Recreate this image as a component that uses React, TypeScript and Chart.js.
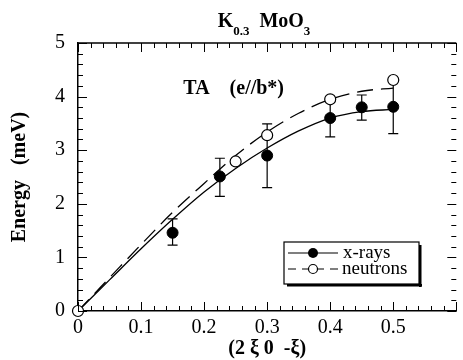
import React, { useEffect, useRef } from 'react';
import { Chart, registerables } from 'chart.js';

Chart.register(...registerables);

// ---- data ----
const xrayX = [0.15, 0.225, 0.3, 0.4, 0.45, 0.5];
const xrayY = [1.46, 2.51, 2.9, 3.6, 3.8, 3.81];
const xrayErrLow = [1.23, 2.14, 2.3, 3.25, 3.56, 3.31];
const xrayErrHigh = [1.72, 2.85, 3.49, 3.95, 4.03, 4.28];

const neutronX = [0, 0.25, 0.3, 0.4, 0.5];
const neutronY = [0, 2.79, 3.28, 3.95, 4.31];

const curveX = [0, 0.05, 0.1, 0.15, 0.2, 0.25, 0.3, 0.35, 0.4, 0.45, 0.5];
const xrayFit = [0, 0.58, 1.16, 1.71, 2.22, 2.66, 3.04, 3.36, 3.6, 3.72, 3.76];
const neutronFit = [0, 0.62, 1.24, 1.84, 2.38, 2.9, 3.34, 3.69, 3.95, 4.1, 4.16];

const xTickLabels = ['0', '0.1', '0.2', '0.3', '0.4', '0.5', ''];
const yTickLabels = ['0', '1', '2', '3', '4', '5'];

const seriesLabels = ['x-rays', 'neutrons'];
const titleParts = [
  { text: 'K', sub: false },
  { text: '0.3', sub: true },
  { text: '  MoO', sub: false },
  { text: '3', sub: true },
];
const annotationText = 'TA    (e//b*)';
const annotationX = 0.167;
const annotationY = 4.14;
const xAxisTitle = '(2 \u03BE 0  -\u03BE)';
const yAxisTitle = 'Energy   (meV)';

const SERIF = '"Liberation Serif", "Times New Roman", serif';

const errorBarPlugin = {
  id: 'errorBars',
  beforeDatasetsDraw(chart: any) {
    const { ctx, scales } = chart;
    const xs = scales.x;
    const ys = scales.y;
    ctx.save();
    ctx.strokeStyle = '#000';
    ctx.lineWidth = 1.2;
    xrayX.forEach((x, i) => {
      const px = xs.getPixelForValue(x);
      const lo = ys.getPixelForValue(xrayErrLow[i]);
      const hi = ys.getPixelForValue(xrayErrHigh[i]);
      ctx.beginPath();
      ctx.moveTo(px, lo);
      ctx.lineTo(px, hi);
      ctx.moveTo(px - 5, lo);
      ctx.lineTo(px + 5, lo);
      ctx.moveTo(px - 5, hi);
      ctx.lineTo(px + 5, hi);
      ctx.stroke();
    });
    ctx.restore();
  },
};

const decorPlugin = {
  id: 'decor',
  afterDraw(chart: any) {
    const { ctx, scales, chartArea } = chart;
    const xs = scales.x;
    const ys = scales.y;
    const { left, right, top, bottom } = chartArea;
    ctx.save();
    ctx.strokeStyle = '#000';

    // frame top (right edge falls at the picture border)
    ctx.lineWidth = 1.5;
    ctx.beginPath();
    ctx.moveTo(left, top);
    ctx.lineTo(right, top);
    ctx.stroke();

    // inward ticks on all sides
    ctx.lineWidth = 1;
    ctx.beginPath();
    for (let k = 0; k <= 30; k++) {
      const v = k * 0.02;
      const major = k % 5 === 0;
      const len = major ? 9 : 5;
      const px = Math.round(xs.getPixelForValue(v)) + 0.5;
      ctx.moveTo(px, bottom);
      ctx.lineTo(px, bottom - len);
      ctx.moveTo(px, top);
      ctx.lineTo(px, top + len);
    }
    for (let k = 0; k <= 25; k++) {
      const v = k * 0.2;
      const major = k % 5 === 0;
      const len = major ? 9 : 5;
      const py = Math.round(ys.getPixelForValue(v)) + 0.5;
      ctx.moveTo(left, py);
      ctx.lineTo(left + len, py);
      ctx.moveTo(right, py);
      ctx.lineTo(right - len, py);
    }
    ctx.stroke();

    // title with subscripts
    const mainFont = `bold 20px ${SERIF}`;
    const subFont = `bold 13px ${SERIF}`;
    let total = 0;
    titleParts.forEach((p) => {
      ctx.font = p.sub ? subFont : mainFont;
      total += ctx.measureText(p.text).width;
    });
    let tx = 264 - total / 2;
    ctx.fillStyle = '#000';
    ctx.textBaseline = 'alphabetic';
    ctx.textAlign = 'left';
    titleParts.forEach((p) => {
      ctx.font = p.sub ? subFont : mainFont;
      ctx.fillText(p.text, tx, p.sub ? 35 : 27);
      tx += ctx.measureText(p.text).width;
    });

    // annotation inside plot
    ctx.font = `bold 20px ${SERIF}`;
    ctx.textBaseline = 'middle';
    ctx.fillText(annotationText, xs.getPixelForValue(annotationX), ys.getPixelForValue(annotationY));

    // legend box
    const bx = 284, by = 242, bw = 135, bh = 42;
    ctx.fillStyle = '#fff';
    ctx.fillRect(bx, by, bw, bh);
    ctx.lineWidth = 1.2;
    ctx.strokeRect(bx, by, bw, bh);
    ctx.fillStyle = '#000';
    ctx.fillRect(bx + 3, by + bh, bw, 2.5);
    ctx.fillRect(bx + bw, by + 3, 2.5, bh);

    const rows = [253, 269];
    // x-rays row
    ctx.lineWidth = 1.2;
    ctx.setLineDash([]);
    ctx.beginPath();
    ctx.moveTo(288, rows[0]);
    ctx.lineTo(338, rows[0]);
    ctx.stroke();
    ctx.beginPath();
    ctx.arc(313, rows[0], 5, 0, Math.PI * 2);
    ctx.fill();
    // neutrons row
    ctx.setLineDash([8, 6]);
    ctx.beginPath();
    ctx.moveTo(288, rows[1]);
    ctx.lineTo(338, rows[1]);
    ctx.stroke();
    ctx.setLineDash([]);
    ctx.beginPath();
    ctx.arc(313, rows[1], 4.5, 0, Math.PI * 2);
    ctx.fillStyle = '#fff';
    ctx.fill();
    ctx.stroke();
    ctx.fillStyle = '#000';
    ctx.font = `19px ${SERIF}`;
    ctx.textBaseline = 'middle';
    ctx.fillText(seriesLabels[0], 343, rows[0]);
    ctx.fillText(seriesLabels[1], 342, rows[1]);

    ctx.restore();
  },
};

export default function App() {
  const ref = useRef<HTMLCanvasElement>(null);
  useEffect(() => {
    document.body.style.margin = '0';
    const canvas = ref.current;
    if (!canvas) return;
    const chart = new Chart(canvas, {
      type: 'line',
      data: {
        datasets: [
          {
            label: 'x-rays fit',
            data: curveX.map((x, i) => ({ x, y: xrayFit[i] })),
            borderColor: '#000',
            borderWidth: 1.3,
            pointRadius: 0,
            cubicInterpolationMode: 'monotone',
            fill: false,
            order: 3,
          },
          {
            label: 'neutrons fit',
            data: curveX.map((x, i) => ({ x, y: neutronFit[i] })),
            borderColor: '#000',
            borderWidth: 1.3,
            borderDash: [16, 8],
            pointRadius: 0,
            cubicInterpolationMode: 'monotone',
            fill: false,
            order: 3,
          },
          {
            label: seriesLabels[0],
            data: xrayX.map((x, i) => ({ x, y: xrayY[i] })),
            showLine: false,
            pointRadius: 5.5,
            pointBackgroundColor: '#000',
            pointBorderColor: '#000',
            pointBorderWidth: 1,
            order: 1,
          },
          {
            label: seriesLabels[1],
            data: neutronX.map((x, i) => ({ x, y: neutronY[i] })),
            showLine: false,
            pointRadius: 5.5,
            pointBackgroundColor: '#fff',
            pointBorderColor: '#000',
            pointBorderWidth: 1.2,
            order: 0,
          },
        ] as any,
      },
      options: {
        responsive: false,
        animation: false,
        devicePixelRatio: 1,
        clip: false as any,
        layout: { padding: { top: 43, right: 0, left: 0, bottom: 0 } },
        plugins: {
          legend: { display: false },
          title: { display: false },
          tooltip: { enabled: false },
        },
        scales: {
          x: {
            type: 'linear',
            min: 0,
            max: 0.6,
            grid: { display: false, drawTicks: false },
            border: { display: true, color: '#000', width: 1.5 },
            ticks: {
              stepSize: 0.1,
              color: '#000',
              padding: 5,
              maxRotation: 0,
              autoSkip: false,
              font: { family: SERIF, size: 20 },
              callback: (_v: any, i: number) => xTickLabels[i] ?? '',
            },
            title: {
              display: true,
              text: xAxisTitle,
              color: '#000',
              font: { family: SERIF, size: 20, weight: 'bold' },
              padding: { top: 0, bottom: -1 },
            },
            afterFit: (s: any) => {
              s.height = 49;
              s.paddingLeft = 0;
              s.paddingRight = 0;
            },
          },
          y: {
            type: 'linear',
            min: 0,
            max: 5,
            grid: { display: false, drawTicks: false },
            border: { display: true, color: '#000', width: 1.5 },
            ticks: {
              stepSize: 1,
              color: '#000',
              padding: 13,
              font: { family: SERIF, size: 20 },
              callback: (_v: any, i: number) => yTickLabels[i] ?? '',
            },
            title: {
              display: true,
              text: yAxisTitle,
              color: '#000',
              font: { family: SERIF, size: 20, weight: 'bold' },
              padding: { top: 8, bottom: 0 },
            },
            afterFit: (s: any) => {
              s.width = 78;
            },
          },
        },
      } as any,
      plugins: [errorBarPlugin, decorPlugin],
    });
    return () => chart.destroy();
  }, []);
  return (
    <div style={{ width: 463, height: 360 }}>
      <canvas ref={ref} width={463} height={360} style={{ display: 'block' }} />
    </div>
  );
}
